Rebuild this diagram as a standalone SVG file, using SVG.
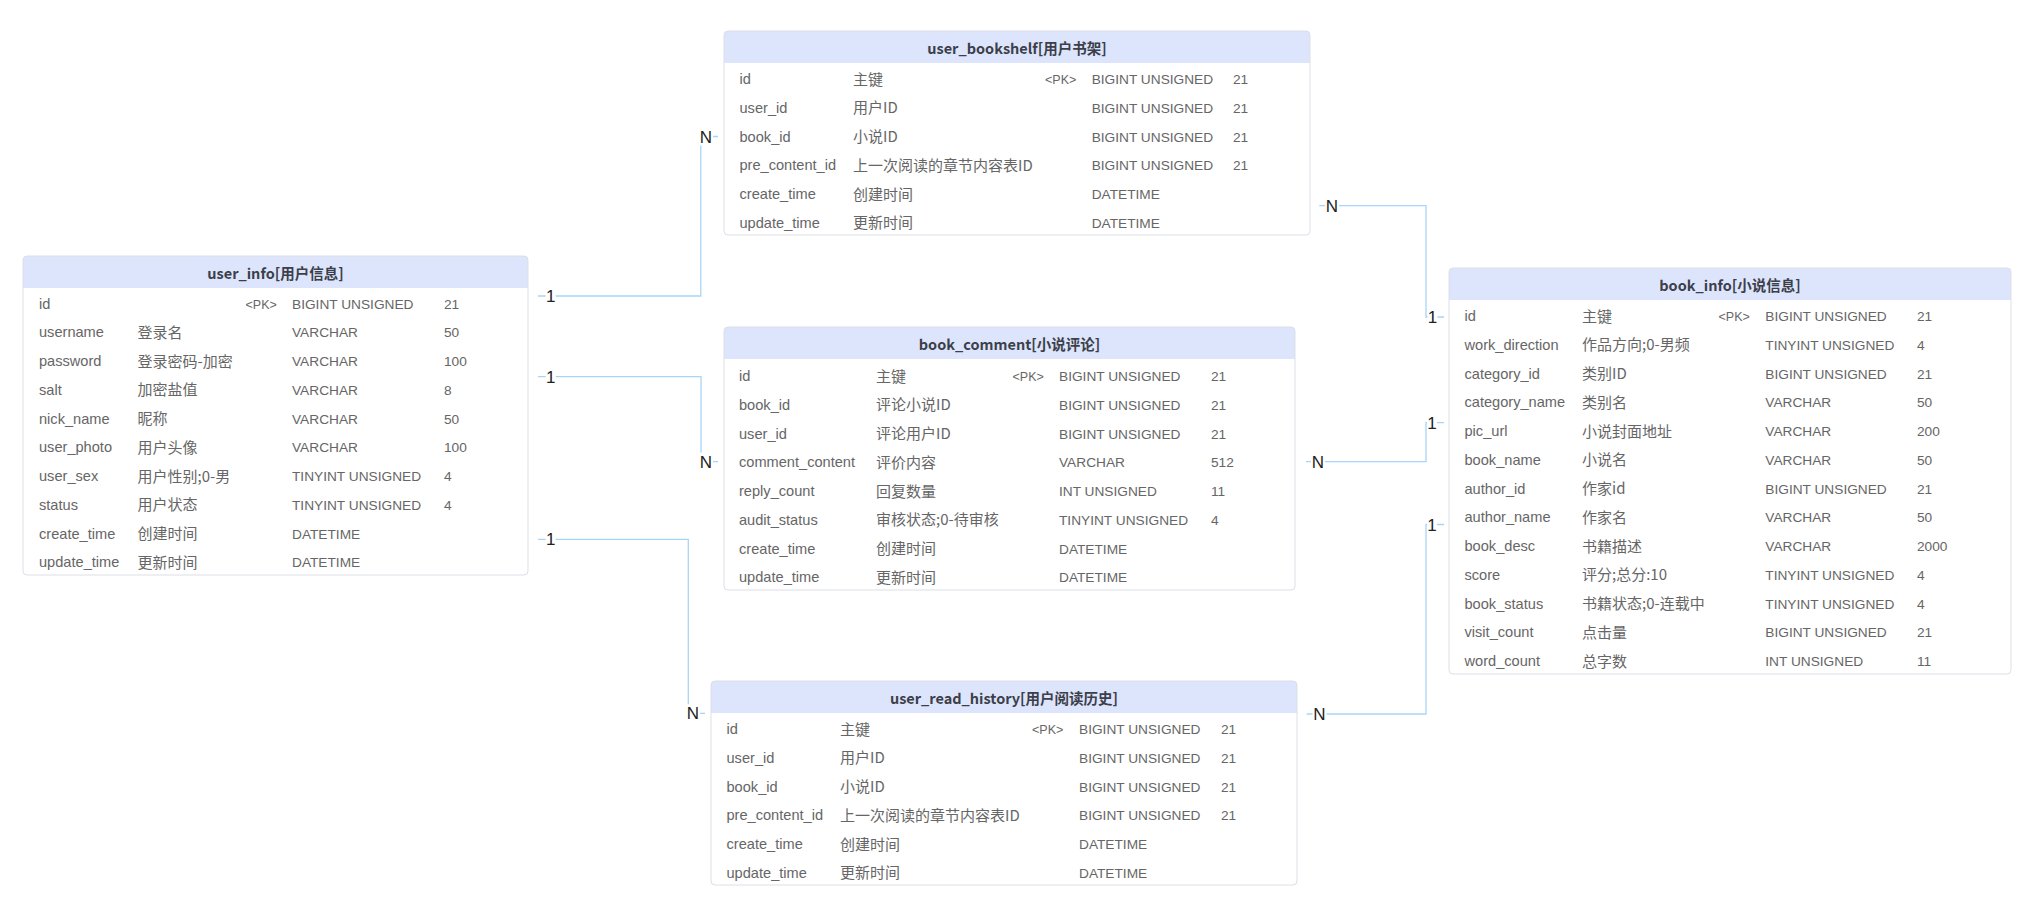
<svg xmlns="http://www.w3.org/2000/svg" width="2041" height="916" viewBox="0 0 2041 916">
<style>
.box{fill:#ffffff;stroke:#dcdfe6;stroke-width:1}
.hd{fill:#dde5fd}
.title{font-family:"Noto Sans CJK SC","Liberation Sans",sans-serif;font-size:14.5px;font-weight:bold;fill:#3c3f4a;text-anchor:middle}
.n{font-family:"Liberation Sans","Noto Sans CJK SC",sans-serif;font-size:14.6px;fill:#666666}
.c{font-family:"Noto Sans CJK SC","Liberation Sans",sans-serif;font-size:15px;fill:#666666}
.t{font-family:"Liberation Sans","Noto Sans CJK SC",sans-serif;font-size:13.7px;fill:#666666}
.pk{font-family:"Liberation Sans",sans-serif;font-size:12.5px;fill:#666666}
.conn{fill:none;stroke:#a8d5f7;stroke-width:1.3}
.lbg{fill:#ffffff}
.lbl{font-family:"Liberation Sans",sans-serif;font-size:17px;fill:#222222;text-anchor:middle}
</style>
<rect width="2041" height="916" fill="#ffffff"/>

<g id="connectors">
  <path class="conn" d="M538,296 H700.8 V136.5 H718"/>
  <path class="conn" d="M538,376.7 H701 V461.7 H718"/>
  <path class="conn" d="M538,539.3 H688.3 V713.3 H705"/>
  <path class="conn" d="M1319.3,205.7 H1426 V317 H1444"/>
  <path class="conn" d="M1306,461.7 H1426 V422.7 H1444"/>
  <path class="conn" d="M1306.7,714 H1426 V524.5 H1444"/>
  <rect class="lbg" x="545.7" y="287" width="10" height="18"/><text class="lbl" x="550.7" y="302.1">1</text>
  <rect class="lbg" x="699" y="127.5" width="14" height="18"/><text class="lbl" x="706" y="142.6">N</text>
  <rect class="lbg" x="545.7" y="367.7" width="10" height="18"/><text class="lbl" x="550.7" y="382.8">1</text>
  <rect class="lbg" x="699" y="452.7" width="14" height="18"/><text class="lbl" x="706" y="467.8">N</text>
  <rect class="lbg" x="545.7" y="530.3" width="10" height="18"/><text class="lbl" x="550.7" y="545.4">1</text>
  <rect class="lbg" x="686" y="704.3" width="14" height="18"/><text class="lbl" x="693" y="719.4">N</text>
  <rect class="lbg" x="1325" y="196.7" width="14" height="18"/><text class="lbl" x="1332" y="211.8">N</text>
  <rect class="lbg" x="1427.5" y="308" width="10" height="18"/><text class="lbl" x="1432.5" y="323.1">1</text>
  <rect class="lbg" x="1311" y="452.7" width="14" height="18"/><text class="lbl" x="1318" y="467.8">N</text>
  <rect class="lbg" x="1427" y="413.7" width="10" height="18"/><text class="lbl" x="1432" y="428.8">1</text>
  <rect class="lbg" x="1312.5" y="705" width="14" height="18"/><text class="lbl" x="1319.5" y="720.1">N</text>
  <rect class="lbg" x="1427" y="515.5" width="10" height="18"/><text class="lbl" x="1432" y="530.6">1</text>
</g>

<g id="user_info" transform="translate(23,256)">
  <path class="hd" d="M0,4 A4,4 0 0 1 4,0 H501 A4,4 0 0 1 505,4 V32 H0 Z"/>
  <rect class="box" x="0" y="0" width="505" height="319" rx="4" fill="none" style="fill:none"/>
  <text class="title" x="252.5" y="22.5">user_info[用户信息]</text>
  <text class="n"><tspan x="16" y="52.5">id</tspan><tspan x="16" y="81.25">username</tspan><tspan x="16" y="110">password</tspan><tspan x="16" y="138.75">salt</tspan><tspan x="16" y="167.5">nick_name</tspan><tspan x="16" y="196.25">user_photo</tspan><tspan x="16" y="225">user_sex</tspan><tspan x="16" y="253.75">status</tspan><tspan x="16" y="282.5">create_time</tspan><tspan x="16" y="311.25">update_time</tspan></text>
  <text class="c"><tspan x="114.5" y="81.75">登录名</tspan><tspan x="114.5" y="110.5">登录密码-加密</tspan><tspan x="114.5" y="139.25">加密盐值</tspan><tspan x="114.5" y="168">昵称</tspan><tspan x="114.5" y="196.75">用户头像</tspan><tspan x="114.5" y="225.5">用户性别;0-男</tspan><tspan x="114.5" y="254.25">用户状态</tspan><tspan x="114.5" y="283">创建时间</tspan><tspan x="114.5" y="311.75">更新时间</tspan></text>
  <text class="pk" x="222.5" y="52.5">&lt;PK&gt;</text>
  <text class="t"><tspan x="269" y="52.5">BIGINT UNSIGNED</tspan><tspan x="269" y="81.25">VARCHAR</tspan><tspan x="269" y="110">VARCHAR</tspan><tspan x="269" y="138.75">VARCHAR</tspan><tspan x="269" y="167.5">VARCHAR</tspan><tspan x="269" y="196.25">VARCHAR</tspan><tspan x="269" y="225">TINYINT UNSIGNED</tspan><tspan x="269" y="253.75">TINYINT UNSIGNED</tspan><tspan x="269" y="282.5">DATETIME</tspan><tspan x="269" y="311.25">DATETIME</tspan></text>
  <text class="t"><tspan x="421" y="52.5">21</tspan><tspan x="421" y="81.25">50</tspan><tspan x="421" y="110">100</tspan><tspan x="421" y="138.75">8</tspan><tspan x="421" y="167.5">50</tspan><tspan x="421" y="196.25">100</tspan><tspan x="421" y="225">4</tspan><tspan x="421" y="253.75">4</tspan></text>
</g>

<g id="user_bookshelf" transform="translate(724,31)">
  <path class="hd" d="M0,4 A4,4 0 0 1 4,0 H582 A4,4 0 0 1 586,4 V32 H0 Z"/>
  <rect class="box" x="0" y="0" width="586" height="204" rx="4" style="fill:none"/>
  <text class="title" x="293" y="23">user_bookshelf[用户书架]</text>
  <text class="n"><tspan x="15.5" y="53">id</tspan><tspan x="15.5" y="81.75">user_id</tspan><tspan x="15.5" y="110.5">book_id</tspan><tspan x="15.5" y="139.25">pre_content_id</tspan><tspan x="15.5" y="168">create_time</tspan><tspan x="15.5" y="196.75">update_time</tspan></text>
  <text class="c"><tspan x="129" y="53.5">主键</tspan><tspan x="129" y="82.25">用户ID</tspan><tspan x="129" y="111">小说ID</tspan><tspan x="129" y="139.75">上一次阅读的章节内容表ID</tspan><tspan x="129" y="168.5">创建时间</tspan><tspan x="129" y="197.25">更新时间</tspan></text>
  <text class="pk" x="321" y="53">&lt;PK&gt;</text>
  <text class="t"><tspan x="367.7" y="53">BIGINT UNSIGNED</tspan><tspan x="367.7" y="81.75">BIGINT UNSIGNED</tspan><tspan x="367.7" y="110.5">BIGINT UNSIGNED</tspan><tspan x="367.7" y="139.25">BIGINT UNSIGNED</tspan><tspan x="367.7" y="168">DATETIME</tspan><tspan x="367.7" y="196.75">DATETIME</tspan></text>
  <text class="t"><tspan x="509" y="53">21</tspan><tspan x="509" y="81.75">21</tspan><tspan x="509" y="110.5">21</tspan><tspan x="509" y="139.25">21</tspan></text>
</g>

<g id="book_comment" transform="translate(724,327)">
  <path class="hd" d="M0,4 A4,4 0 0 1 4,0 H567 A4,4 0 0 1 571,4 V32 H0 Z"/>
  <rect class="box" x="0" y="0" width="571" height="263" rx="4" style="fill:none"/>
  <text class="title" x="285.5" y="23">book_comment[小说评论]</text>
  <text class="n"><tspan x="15" y="54">id</tspan><tspan x="15" y="82.75">book_id</tspan><tspan x="15" y="111.5">user_id</tspan><tspan x="15" y="140.25">comment_content</tspan><tspan x="15" y="169">reply_count</tspan><tspan x="15" y="197.75">audit_status</tspan><tspan x="15" y="226.5">create_time</tspan><tspan x="15" y="255.25">update_time</tspan></text>
  <text class="c"><tspan x="152" y="54.5">主键</tspan><tspan x="152" y="83.25">评论小说ID</tspan><tspan x="152" y="112">评论用户ID</tspan><tspan x="152" y="140.75">评价内容</tspan><tspan x="152" y="169.5">回复数量</tspan><tspan x="152" y="198.25">审核状态;0-待审核</tspan><tspan x="152" y="227">创建时间</tspan><tspan x="152" y="255.75">更新时间</tspan></text>
  <text class="pk" x="288.5" y="54">&lt;PK&gt;</text>
  <text class="t"><tspan x="335" y="54">BIGINT UNSIGNED</tspan><tspan x="335" y="82.75">BIGINT UNSIGNED</tspan><tspan x="335" y="111.5">BIGINT UNSIGNED</tspan><tspan x="335" y="140.25">VARCHAR</tspan><tspan x="335" y="169">INT UNSIGNED</tspan><tspan x="335" y="197.75">TINYINT UNSIGNED</tspan><tspan x="335" y="226.5">DATETIME</tspan><tspan x="335" y="255.25">DATETIME</tspan></text>
  <text class="t"><tspan x="487" y="54">21</tspan><tspan x="487" y="82.75">21</tspan><tspan x="487" y="111.5">21</tspan><tspan x="487" y="140.25">512</tspan><tspan x="487" y="169">11</tspan><tspan x="487" y="197.75">4</tspan></text>
</g>

<g id="book_info" transform="translate(1449,268)">
  <path class="hd" d="M0,4 A4,4 0 0 1 4,0 H558 A4,4 0 0 1 562,4 V32 H0 Z"/>
  <rect class="box" x="0" y="0" width="562" height="406" rx="4" style="fill:none"/>
  <text class="title" x="281" y="22.5">book_info[小说信息]</text>
  <text class="n"><tspan x="15.5" y="53">id</tspan><tspan x="15.5" y="81.75">work_direction</tspan><tspan x="15.5" y="110.5">category_id</tspan><tspan x="15.5" y="139.25">category_name</tspan><tspan x="15.5" y="168">pic_url</tspan><tspan x="15.5" y="196.75">book_name</tspan><tspan x="15.5" y="225.5">author_id</tspan><tspan x="15.5" y="254.25">author_name</tspan><tspan x="15.5" y="283">book_desc</tspan><tspan x="15.5" y="311.75">score</tspan><tspan x="15.5" y="340.5">book_status</tspan><tspan x="15.5" y="369.25">visit_count</tspan><tspan x="15.5" y="398">word_count</tspan></text>
  <text class="c"><tspan x="133" y="53.5">主键</tspan><tspan x="133" y="82.25">作品方向;0-男频</tspan><tspan x="133" y="111">类别ID</tspan><tspan x="133" y="139.75">类别名</tspan><tspan x="133" y="168.5">小说封面地址</tspan><tspan x="133" y="197.25">小说名</tspan><tspan x="133" y="226">作家id</tspan><tspan x="133" y="254.75">作家名</tspan><tspan x="133" y="283.5">书籍描述</tspan><tspan x="133" y="312.25">评分;总分:10</tspan><tspan x="133" y="341">书籍状态;0-连载中</tspan><tspan x="133" y="369.75">点击量</tspan><tspan x="133" y="398.5">总字数</tspan></text>
  <text class="pk" x="269.5" y="53">&lt;PK&gt;</text>
  <text class="t"><tspan x="316.3" y="53">BIGINT UNSIGNED</tspan><tspan x="316.3" y="81.75">TINYINT UNSIGNED</tspan><tspan x="316.3" y="110.5">BIGINT UNSIGNED</tspan><tspan x="316.3" y="139.25">VARCHAR</tspan><tspan x="316.3" y="168">VARCHAR</tspan><tspan x="316.3" y="196.75">VARCHAR</tspan><tspan x="316.3" y="225.5">BIGINT UNSIGNED</tspan><tspan x="316.3" y="254.25">VARCHAR</tspan><tspan x="316.3" y="283">VARCHAR</tspan><tspan x="316.3" y="311.75">TINYINT UNSIGNED</tspan><tspan x="316.3" y="340.5">TINYINT UNSIGNED</tspan><tspan x="316.3" y="369.25">BIGINT UNSIGNED</tspan><tspan x="316.3" y="398">INT UNSIGNED</tspan></text>
  <text class="t"><tspan x="468" y="53">21</tspan><tspan x="468" y="81.75">4</tspan><tspan x="468" y="110.5">21</tspan><tspan x="468" y="139.25">50</tspan><tspan x="468" y="168">200</tspan><tspan x="468" y="196.75">50</tspan><tspan x="468" y="225.5">21</tspan><tspan x="468" y="254.25">50</tspan><tspan x="468" y="283">2000</tspan><tspan x="468" y="311.75">4</tspan><tspan x="468" y="340.5">4</tspan><tspan x="468" y="369.25">21</tspan><tspan x="468" y="398">11</tspan></text>
</g>

<g id="user_read_history" transform="translate(711,681)">
  <path class="hd" d="M0,4 A4,4 0 0 1 4,0 H582 A4,4 0 0 1 586,4 V32 H0 Z"/>
  <rect class="box" x="0" y="0" width="586" height="204" rx="4" style="fill:none"/>
  <text class="title" x="293" y="23">user_read_history[用户阅读历史]</text>
  <text class="n"><tspan x="15.5" y="53">id</tspan><tspan x="15.5" y="81.75">user_id</tspan><tspan x="15.5" y="110.5">book_id</tspan><tspan x="15.5" y="139.25">pre_content_id</tspan><tspan x="15.5" y="168">create_time</tspan><tspan x="15.5" y="196.75">update_time</tspan></text>
  <text class="c"><tspan x="129" y="53.5">主键</tspan><tspan x="129" y="82.25">用户ID</tspan><tspan x="129" y="111">小说ID</tspan><tspan x="129" y="139.75">上一次阅读的章节内容表ID</tspan><tspan x="129" y="168.5">创建时间</tspan><tspan x="129" y="197.25">更新时间</tspan></text>
  <text class="pk" x="321" y="53">&lt;PK&gt;</text>
  <text class="t"><tspan x="368" y="53">BIGINT UNSIGNED</tspan><tspan x="368" y="81.75">BIGINT UNSIGNED</tspan><tspan x="368" y="110.5">BIGINT UNSIGNED</tspan><tspan x="368" y="139.25">BIGINT UNSIGNED</tspan><tspan x="368" y="168">DATETIME</tspan><tspan x="368" y="196.75">DATETIME</tspan></text>
  <text class="t"><tspan x="510" y="53">21</tspan><tspan x="510" y="81.75">21</tspan><tspan x="510" y="110.5">21</tspan><tspan x="510" y="139.25">21</tspan></text>
</g>
</svg>
